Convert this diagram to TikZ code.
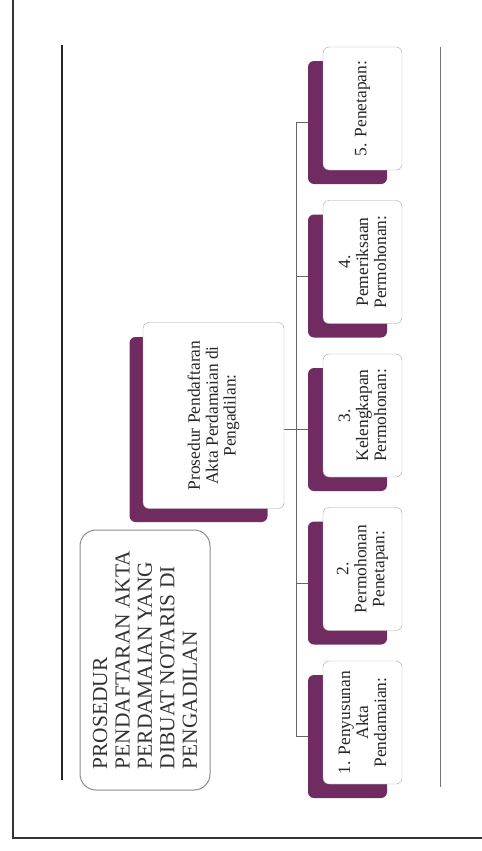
\documentclass[tikz,border=0pt]{standalone}
\usepackage{fontspec}
\setmainfont{Liberation Serif}
\usetikzlibrary{calc}
\definecolor{plum}{RGB}{112,44,96}

\begin{document}
\begin{tikzpicture}[x=1bp,y=1bp,inner sep=2pt,
  back/.style={rounded corners=6bp,fill=plum,rotate=90,minimum width=123bp,minimum height=79bp},
  card/.style={draw=black!35,rounded corners=6bp,fill=white,rotate=90,minimum width=123bp,minimum height=79bp,
    align=center,text=black!85,font=\fontsize{17.5}{18}\selectfont},
  link/.style={draw=black!60,line width=.8bp}]
\useasboundingbox (0,0) rectangle (482,-851);
% frame and rules
\draw [line width=1.5bp,black!80] (13,0) -- (13,-838) -- (482,-838);
\draw [line width=2.5bp,black!85] (62,-45) -- (62,-780);
\draw [line width=.8bp,black!55] (440,-47) -- (440,-787);
% title
\node [draw=black!45,line width=1bp,rounded corners=16bp,rotate=90,minimum width=260bp,minimum height=130bp,
  align=left,text=black!80,font=\fontsize{21.5}{22.5}\selectfont] (T) at (145,-660)
  {PROSEDUR\\PENDAFTARAN AKTA\\PERDAMAIAN YANG\\DIBUAT NOTARIS DI\\PENGADILAN};
% purple backs
\node [back,minimum width=185bp,minimum height=138bp] (P) at (198.5,-429.5) {};
\node [back] (S5) at (347.5,-122.5) {};
\node [back] (S4) at ($ (S5) + (0,-153.5) $) {};
\node [back] (S3) at ($ (S4) + (0,-153.5) $) {};
\node [back] (S2) at ($ (S3) + (0,-153.5) $) {};
\node [back] (S1) at ($ (S2) + (0,-153.5) $) {};
% connectors
\coordinate (J) at ($ (S3.north) + (-11,0) $);
\draw [link] (S5.north) -| (J) |- (S1.north);
\foreach \s in {S2,S3,S4}
  \draw [link] (\s.north) -- (\s.north -| J);
\draw [link] (P.south) -- (S3.north);
% white cards
\node [card,minimum width=186bp,minimum height=141bp] (PC) at ($ (P) + (15,14) $) {Prosedur Pendaftaran\\Akta Perdamaian di\\Pengadilan:};
\node [card] (C1) at ($ (S1) + (15,14) $) {1. Penyusunan\\Akta\\Pendamaian:};
\node [card] (C2) at ($ (S2) + (15,14) $) {2.\\Permohonan\\Penetapan:};
\node [card] (C3) at ($ (S3) + (15,14) $) {3.\\Kelengkapan\\Permohonan:};
\node [card] (C4) at ($ (S4) + (15,14) $) {4.\\Pemeriksaan\\Permohonan:};
\node [card] (C5) at ($ (S5) + (15,14) $) {5. Penetapan:};
\end{tikzpicture}
\end{document}
